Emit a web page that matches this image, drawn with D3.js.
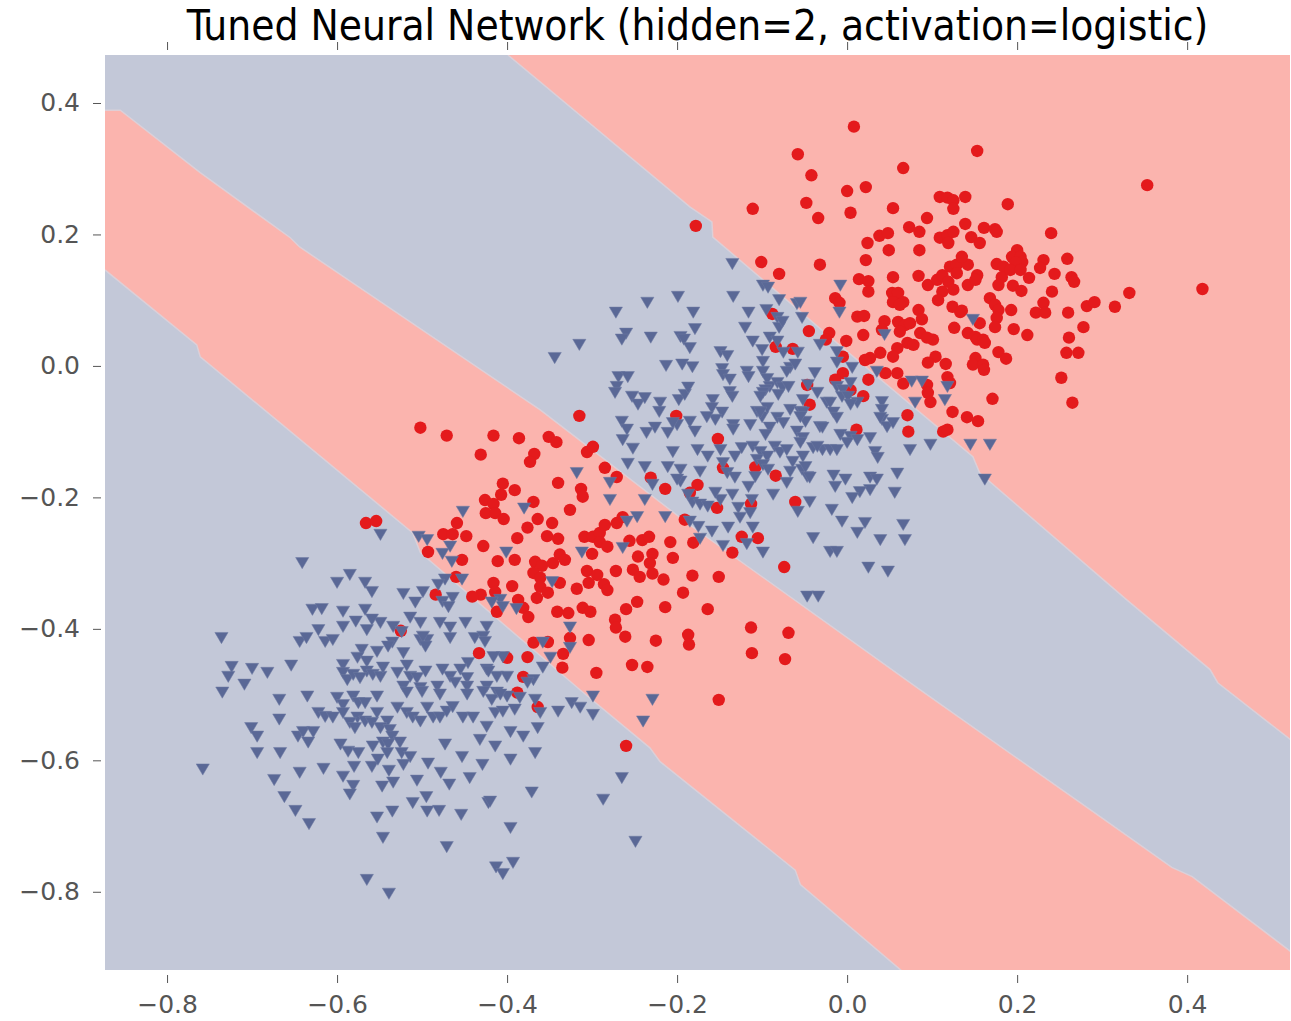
<!DOCTYPE html>
<html>
<head>
<meta charset="utf-8">
<script src="https://cdn.jsdelivr.net/npm/d3@7"></script>
<style>
  html, body { margin: 0; padding: 0; background: #ffffff; }
  svg { display: block; }
  .tick text { font-family: "DejaVu Sans", sans-serif; }
</style>
</head>
<body>
<svg id="chart" width="1291" height="1021"></svg>
<script>
// ---- data -------------------------------------------------------------
const chartTitle = "Tuned Neural Network (hidden=2, activation=logistic)";
const xTickValues = [-0.8, -0.6, -0.4, -0.2, 0.0, 0.2, 0.4];
const yTickValues = [-0.8, -0.6, -0.4, -0.2, 0.0, 0.2, 0.4];
const xExtent = [-0.873, 0.521];
const yExtent = [-0.919, 0.473];

// decision boundaries of the fitted network (as traced on the prediction grid)
const boundaryUpper = [[-0.399,0.473],[-0.185,0.242],[-0.159,0.219],[-0.158,0.196],[-0.012,0.035],[0.148,-0.138],[0.156,-0.163],[0.329,-0.356],[0.427,-0.462],[0.436,-0.482],[0.522,-0.569]];
const boundaryMiddle = [[-0.873,0.389],[-0.855,0.389],[-0.761,0.294],[-0.655,0.195],[-0.644,0.181],[-0.361,-0.067],[-0.185,-0.242],[0.086,-0.493],[0.298,-0.686],[0.382,-0.763],[0.406,-0.777],[0.522,-0.891]];
const boundaryLower = [[-0.873,0.146],[-0.765,0.032],[-0.761,0.014],[-0.511,-0.254],[-0.502,-0.284],[-0.314,-0.493],[-0.232,-0.581],[-0.220,-0.602],[-0.061,-0.767],[-0.055,-0.789],[0.104,-0.964]];

// class 1 samples (red circles)
const classRed = [
[0.008,0.364],[-0.058,0.322],[-0.042,0.290],[0.066,0.301],[0.000,0.266],[0.022,0.272],[-0.111,0.239],[-0.048,0.248],[-0.034,0.225],[0.004,0.233],[0.054,0.240],[0.153,0.327],[-0.178,0.213],[0.109,0.257],[0.118,0.256],[0.125,0.252],[0.139,0.257],[0.125,0.239],[0.094,0.225],[0.073,0.211],[0.085,0.204],[0.038,0.198],[0.048,0.202],[0.024,0.187],[0.049,0.176],[0.085,0.176],[0.139,0.216],[0.109,0.195],[0.118,0.199],[0.125,0.204],[0.119,0.187],[0.146,0.196],[0.022,0.161],[-0.032,0.154],[-0.101,0.158],[-0.080,0.140],[0.014,0.132],[0.025,0.129],[0.025,0.113],[0.054,0.135],[0.084,0.137],[0.095,0.123],[0.106,0.131],[0.112,0.138],[0.121,0.151],[0.129,0.154],[0.142,0.154],[0.129,0.141],[0.119,0.128],[0.125,0.116],[0.112,0.113],[0.107,0.100],[0.142,0.123],[0.053,0.111],[0.060,0.111],[0.066,0.097],[0.054,0.097],[0.062,0.093],[-0.014,0.103],[-0.009,0.096],[0.084,0.085],[0.088,0.071],[0.124,0.090],[0.133,0.082],[0.012,0.075],[0.020,0.076],[0.044,0.068],[0.060,0.067],[0.068,0.062],[0.074,0.065],[0.062,0.052],[0.019,0.047],[-0.001,0.038],[-0.045,0.053],[-0.021,0.050],[-0.025,0.040],[-0.088,0.079],[-0.084,0.029],[-0.064,0.026],[0.126,0.058],[0.086,0.050],[0.101,0.040],[0.094,0.043],[0.142,0.050],[0.151,0.044],[0.153,0.040],[0.071,0.035],[0.078,0.032],[0.059,0.027],[0.039,0.020],[0.027,0.012],[0.104,0.014],
[0.353,0.275],[0.189,0.246],[0.161,0.210],[0.174,0.208],[0.176,0.204],[0.156,0.187],[0.240,0.202],[0.135,0.166],[0.200,0.176],[0.194,0.166],[0.204,0.166],[0.206,0.158],[0.198,0.157],[0.176,0.155],[0.184,0.151],[0.182,0.135],[0.192,0.146],[0.204,0.146],[0.231,0.161],[0.227,0.149],[0.259,0.163],[0.244,0.140],[0.214,0.134],[0.264,0.135],[0.267,0.128],[0.153,0.138],[0.151,0.131],[0.178,0.123],[0.195,0.122],[0.205,0.114],[0.241,0.113],[0.418,0.117],[0.332,0.111],[0.168,0.103],[0.174,0.093],[0.178,0.085],[0.193,0.085],[0.231,0.096],[0.222,0.081],[0.233,0.081],[0.260,0.081],[0.282,0.091],[0.291,0.097],[0.315,0.090],[0.135,0.084],[0.176,0.073],[0.156,0.065],[0.174,0.059],[0.196,0.056],[0.212,0.047],[0.278,0.059],[0.261,0.043],[0.160,0.040],[0.162,0.035],[0.258,0.020],[0.272,0.020],[0.178,0.021],[0.187,0.011],[0.151,0.012],[0.148,0.002],[0.160,0.002],[0.161,-0.006],[0.252,-0.018],[0.171,-0.050],[0.265,-0.056],[0.141,-0.078],[0.154,-0.084],
[0.041,0.055],[0.021,0.009],[0.054,0.014],[0.095,0.005],[0.116,0.003],[0.045,-0.011],[0.059,-0.011],[0.118,-0.017],[0.121,-0.026],[0.094,-0.029],[0.095,-0.041],[0.098,-0.055],[0.066,-0.027],[0.124,-0.070],[0.113,-0.100],[0.118,-0.097],[0.071,-0.075],[0.072,-0.100],[0.025,-0.021],[0.019,-0.046],[-0.005,-0.011],[-0.014,-0.021],[0.011,-0.097],[0.004,-0.037],[-0.044,-0.059],[-0.047,-0.029],[-0.005,0.014],
[-0.152,-0.111],[-0.146,-0.155],[-0.108,-0.154],[-0.084,-0.167],[-0.176,-0.181],[-0.185,-0.193],[-0.153,-0.216],[-0.113,-0.210],[-0.061,-0.207],[-0.191,-0.234],[-0.181,-0.269],[-0.124,-0.260],[-0.105,-0.262],[-0.135,-0.284],[-0.074,-0.306],[-0.182,-0.319],[-0.151,-0.321],[-0.193,-0.345],[-0.164,-0.370],[-0.113,-0.398],[-0.187,-0.409],[-0.186,-0.424],[-0.069,-0.406],[-0.112,-0.437],[-0.073,-0.446],[-0.151,-0.508],
[-0.502,-0.094],[-0.471,-0.106],[-0.416,-0.106],[-0.386,-0.110],[-0.351,-0.108],[-0.342,-0.116],[-0.431,-0.135],[-0.368,-0.134],[-0.373,-0.146],[-0.315,-0.076],[-0.306,-0.131],[-0.299,-0.123],[-0.285,-0.155],[-0.271,-0.169],[-0.231,-0.170],[-0.214,-0.187],[-0.201,-0.076],[-0.340,-0.178],[-0.313,-0.187],[-0.311,-0.199],[-0.326,-0.219],[-0.405,-0.179],[-0.407,-0.196],[-0.391,-0.189],[-0.369,-0.207],[-0.426,-0.204],[-0.416,-0.210],[-0.425,-0.224],[-0.414,-0.224],[-0.404,-0.233],[-0.364,-0.233],[-0.347,-0.239],[-0.353,-0.259],[-0.340,-0.263],[-0.376,-0.246],[-0.388,-0.262],[-0.459,-0.239],[-0.475,-0.256],[-0.464,-0.256],[-0.448,-0.259],[-0.428,-0.274],[-0.493,-0.283],[-0.453,-0.295],[-0.411,-0.297],[-0.391,-0.295],[-0.367,-0.298],[-0.359,-0.304],[-0.369,-0.315],[-0.361,-0.322],[-0.361,-0.336],[-0.352,-0.345],[-0.365,-0.353],[-0.346,-0.300],[-0.338,-0.287],[-0.332,-0.295],[-0.309,-0.260],[-0.299,-0.260],[-0.291,-0.254],[-0.285,-0.242],[-0.291,-0.268],[-0.282,-0.275],[-0.271,-0.239],[-0.264,-0.230],[-0.256,-0.266],[-0.241,-0.265],[-0.233,-0.260],[-0.246,-0.290],[-0.229,-0.286],[-0.232,-0.300],[-0.205,-0.292],[-0.272,-0.312],[-0.252,-0.310],[-0.244,-0.321],[-0.229,-0.316],[-0.216,-0.325],[-0.208,-0.268],[-0.300,-0.286],[-0.306,-0.312],[-0.294,-0.318],[-0.304,-0.330],[-0.286,-0.332],[-0.282,-0.341],[-0.318,-0.339],[-0.338,-0.330],[-0.394,-0.335],[-0.416,-0.330],[-0.414,-0.344],[-0.431,-0.348],[-0.441,-0.351],[-0.387,-0.356],[-0.381,-0.368],[-0.375,-0.382],[-0.412,-0.374],[-0.341,-0.374],[-0.328,-0.376],[-0.311,-0.368],[-0.302,-0.374],[-0.260,-0.370],[-0.247,-0.359],[-0.214,-0.367],[-0.273,-0.386],[-0.272,-0.398],[-0.261,-0.412],[-0.326,-0.414],[-0.352,-0.420],[-0.304,-0.417],[-0.225,-0.418],[-0.334,-0.438],[-0.335,-0.459],[-0.295,-0.467],[-0.253,-0.455],[-0.235,-0.458],[-0.369,-0.421],[-0.376,-0.443],[-0.400,-0.444],[-0.433,-0.437],[-0.381,-0.473],[-0.388,-0.497],[-0.364,-0.519],[-0.525,-0.403],[-0.566,-0.239],[-0.554,-0.236],[-0.484,-0.348],[-0.460,-0.321],[-0.260,-0.578]
];

// class 0 samples (blue triangles)
const classBlue = [
[-0.135,0.155],[-0.099,0.122],[-0.093,0.119],[-0.199,0.105],[-0.235,0.096],[-0.272,0.081],[-0.134,0.105],[-0.181,0.081],[-0.080,0.100],[-0.059,0.094],[-0.116,0.081],[-0.095,0.085],[-0.082,0.073],[-0.080,0.058],[-0.076,0.067],[-0.053,0.073],[-0.179,0.056],[-0.120,0.058],[-0.315,0.032],[-0.344,0.012],[-0.260,0.049],[-0.265,0.040],[-0.231,0.043],[-0.196,0.044],[-0.192,0.040],[-0.185,0.027],[-0.111,0.037],[-0.091,0.043],[-0.082,0.037],[-0.075,0.020],[-0.058,0.020],[-0.032,0.032],[-0.100,0.024],[-0.149,0.021],[-0.141,0.015],[-0.099,0.006],[-0.213,0.000],[-0.194,0.002],[-0.182,-0.002],[-0.147,-0.005],[-0.146,-0.014],[-0.138,-0.021],[-0.118,-0.009],[-0.116,-0.017],[-0.099,-0.009],[-0.094,-0.020],[-0.091,-0.032],[-0.096,-0.037],[-0.082,-0.026],[-0.076,-0.033],[-0.069,-0.032],[-0.067,-0.003],[-0.061,0.002],[-0.071,-0.009],[-0.038,-0.011],[-0.035,-0.041],[-0.052,-0.052],[-0.024,-0.056],[-0.269,-0.017],[-0.258,-0.017],[-0.271,-0.032],[-0.273,-0.041],[-0.253,-0.047],[-0.246,-0.059],[-0.238,-0.049],[-0.220,-0.056],[-0.221,-0.070],[-0.198,-0.052],[-0.191,-0.044],[-0.187,-0.033],[-0.158,-0.052],[-0.159,-0.064],[-0.147,-0.071],[-0.155,-0.082],[-0.138,-0.040],[-0.135,-0.047],[-0.099,-0.041],[-0.102,-0.047],[-0.081,-0.044],[-0.106,-0.070],[-0.100,-0.078],[-0.094,-0.064],[-0.082,-0.079],[-0.075,-0.087],[-0.067,-0.067],[-0.055,-0.070],[-0.049,-0.085],[-0.032,-0.093],[-0.265,-0.085],[-0.226,-0.094],[-0.200,-0.090],[-0.185,-0.085],[-0.165,-0.078],[-0.134,-0.090],[-0.114,-0.090],
[-0.008,0.122],[-0.009,0.081],[-0.055,0.096],[0.044,0.047],[-0.012,0.021],[-0.012,0.005],[0.006,-0.003],[0.035,-0.009],[0.148,0.070],[0.076,-0.024],[0.088,-0.024],[0.118,-0.032],[0.115,-0.052],[0.080,-0.056],[-0.046,-0.029],[-0.012,-0.032],[-0.005,-0.037],[-0.006,-0.047],[0.001,-0.047],[0.004,-0.026],[0.012,-0.056],[-0.020,-0.056],[-0.016,-0.071],[-0.012,-0.079],[0.041,-0.055],[0.041,-0.067],[0.041,-0.082],[0.047,-0.093],[0.054,-0.087],[-0.029,-0.094],[-0.052,-0.071],[-0.008,-0.105],[0.004,-0.108],[0.000,-0.117],[0.012,-0.113],[0.027,-0.110],[0.033,-0.131],[0.036,-0.140],[0.074,-0.128],[0.098,-0.120],[0.145,-0.120],[0.168,-0.120],[0.162,-0.173],[-0.040,-0.125],[-0.029,-0.128],[-0.020,-0.128],[-0.012,-0.128],[-0.052,-0.138],[-0.053,-0.158],[-0.047,-0.169],[-0.016,-0.167],[-0.014,-0.184],[-0.002,-0.173],[0.027,-0.170],[0.035,-0.173],[0.027,-0.189],[0.059,-0.164],[0.015,-0.192],[0.006,-0.201],[0.056,-0.193],[-0.044,-0.207],[-0.018,-0.219],[-0.006,-0.237],[0.021,-0.239],[0.012,-0.254],[0.039,-0.265],[0.066,-0.242],[0.068,-0.265],[-0.040,-0.262],[-0.020,-0.283],[-0.012,-0.283],[0.025,-0.307],[0.048,-0.313],[-0.047,-0.351],[-0.034,-0.351],
[-0.179,-0.100],[-0.134,-0.097],[-0.102,-0.071],[-0.091,-0.094],[-0.096,-0.105],[-0.055,-0.078],[0.004,-0.059],[-0.059,-0.100],[-0.052,-0.110],[-0.055,-0.117],[-0.035,-0.123],[0.039,-0.079],[-0.176,-0.128],[-0.164,-0.138],[-0.149,-0.128],[-0.132,-0.138],[-0.124,-0.125],[-0.111,-0.123],[-0.102,-0.131],[-0.094,-0.138],[-0.085,-0.123],[-0.079,-0.132],[-0.071,-0.128],[-0.064,-0.146],[-0.049,-0.154],[-0.044,-0.170],[-0.067,-0.161],[-0.106,-0.143],[-0.099,-0.151],[-0.093,-0.158],[-0.108,-0.169],[-0.173,-0.161],[-0.146,-0.148],[-0.141,-0.163],[-0.132,-0.170],[-0.116,-0.184],[-0.087,-0.196],[-0.071,-0.178],[-0.058,-0.222],[-0.196,-0.158],[-0.196,-0.176],[-0.182,-0.208],[-0.173,-0.211],[-0.164,-0.214],[-0.128,-0.216],[-0.112,-0.204],[-0.114,-0.224],[-0.126,-0.231],[-0.159,-0.252],[-0.140,-0.246],[-0.111,-0.246],[-0.185,-0.237],[-0.175,-0.245],[-0.173,-0.263],[-0.146,-0.274],[-0.118,-0.271],[-0.099,-0.284],[-0.149,-0.204],[-0.135,-0.196],[-0.155,-0.193],
[-0.259,-0.097],[-0.264,-0.113],[-0.252,-0.126],[-0.236,-0.102],[-0.205,-0.087],[-0.211,-0.102],[-0.205,-0.131],[-0.258,-0.149],[-0.238,-0.154],[-0.211,-0.154],[-0.200,-0.173],[-0.187,-0.196],[-0.318,-0.163],[-0.279,-0.178],[-0.279,-0.204],[-0.238,-0.204],[-0.229,-0.181],[-0.247,-0.230],[-0.259,-0.237],[-0.214,-0.230],[-0.380,-0.217],[-0.312,-0.284],[-0.264,-0.277],[-0.452,-0.222],[-0.504,-0.260],[-0.494,-0.265],[-0.549,-0.257],[-0.476,-0.286],[-0.467,-0.275],[-0.465,-0.298],[-0.453,-0.325],[-0.473,-0.325],[-0.481,-0.333],[-0.464,-0.353],[-0.476,-0.359],[-0.469,-0.367],[-0.499,-0.344],[-0.522,-0.347],[-0.508,-0.360],[-0.567,-0.330],[-0.559,-0.344],[-0.567,-0.371],[-0.401,-0.284],[-0.347,-0.329],[-0.408,-0.356],[-0.405,-0.367],[-0.389,-0.370],[-0.326,-0.398],[-0.326,-0.429],[-0.358,-0.421],[-0.349,-0.444],[-0.358,-0.459],[-0.369,-0.478],[-0.376,-0.482],[-0.299,-0.503],[-0.229,-0.508],[-0.405,-0.443],[-0.416,-0.443],[-0.424,-0.462],[-0.412,-0.473],[-0.400,-0.473],[-0.424,-0.488],[-0.412,-0.497],[-0.400,-0.503],[-0.385,-0.505],[-0.446,-0.452],[-0.455,-0.462],[-0.447,-0.475],[-0.467,-0.473],[-0.476,-0.462],[-0.461,-0.482],[-0.514,-0.383],[-0.502,-0.417],[-0.494,-0.417],[-0.479,-0.391],[-0.467,-0.398],[-0.449,-0.391],[-0.438,-0.414],[-0.424,-0.397],[-0.549,-0.391],[-0.534,-0.397],[-0.524,-0.405],[-0.535,-0.421],[-0.522,-0.437],
[-0.641,-0.300],[-0.585,-0.318],[-0.600,-0.330],[-0.418,-0.360],[-0.736,-0.414],[-0.629,-0.371],[-0.618,-0.370],[-0.593,-0.374],[-0.622,-0.402],[-0.644,-0.420],[-0.636,-0.414],[-0.614,-0.420],[-0.605,-0.417],[-0.593,-0.397],[-0.578,-0.389],[-0.565,-0.402],[-0.559,-0.386],[-0.540,-0.427],[-0.502,-0.391],[-0.499,-0.412],[-0.496,-0.427],[-0.467,-0.414],[-0.428,-0.412],[-0.426,-0.420],[-0.571,-0.432],[-0.576,-0.444],[-0.565,-0.450],[-0.553,-0.435],[-0.565,-0.465],[-0.724,-0.458],[-0.728,-0.473],[-0.700,-0.461],[-0.709,-0.485],[-0.735,-0.497],[-0.682,-0.467],[-0.654,-0.456],[-0.635,-0.503],[-0.668,-0.508],[-0.593,-0.455],[-0.593,-0.467],[-0.588,-0.478],[-0.581,-0.470],[-0.573,-0.475],[-0.600,-0.505],[-0.593,-0.516],[-0.581,-0.503],[-0.575,-0.513],[-0.567,-0.513],[-0.558,-0.470],[-0.549,-0.473],[-0.553,-0.503],[-0.546,-0.459],[-0.529,-0.467],[-0.518,-0.456],[-0.514,-0.473],[-0.506,-0.475],[-0.496,-0.465],[-0.502,-0.490],[-0.522,-0.488],[-0.518,-0.497],[-0.500,-0.496],[-0.482,-0.488],[-0.479,-0.500],[-0.447,-0.488],[-0.447,-0.500],[-0.428,-0.496],[-0.422,-0.465],[-0.418,-0.508],[-0.593,-0.528],[-0.576,-0.535],[-0.567,-0.541],[-0.559,-0.543],[-0.585,-0.543],[-0.579,-0.551],[-0.622,-0.528],[-0.614,-0.534],[-0.605,-0.535],[-0.668,-0.538],[-0.701,-0.551],[-0.694,-0.564],[-0.646,-0.564],[-0.640,-0.557],[-0.628,-0.557],[-0.634,-0.573],[-0.553,-0.528],[-0.541,-0.541],[-0.549,-0.551],[-0.538,-0.554],[-0.546,-0.573],[-0.535,-0.564],[-0.529,-0.520],[-0.518,-0.528],[-0.511,-0.535],[-0.502,-0.541],[-0.494,-0.520],[-0.487,-0.535],[-0.479,-0.535],[-0.471,-0.526],[-0.464,-0.519],[-0.452,-0.535],[-0.440,-0.535],[-0.424,-0.549],[-0.414,-0.528],[-0.596,-0.576],[-0.587,-0.587],[-0.558,-0.579],[-0.540,-0.576],[-0.526,-0.573],[-0.524,-0.589],[-0.514,-0.595],[-0.473,-0.576],[-0.453,-0.595],[-0.432,-0.569],[-0.414,-0.579],
[-0.758,-0.614],[-0.694,-0.589],[-0.667,-0.589],[-0.674,-0.630],[-0.644,-0.619],[-0.616,-0.613],[-0.662,-0.656],[-0.649,-0.677],[-0.633,-0.697],[-0.575,-0.589],[-0.580,-0.610],[-0.593,-0.625],[-0.581,-0.639],[-0.585,-0.652],[-0.559,-0.610],[-0.552,-0.599],[-0.541,-0.589],[-0.539,-0.616],[-0.534,-0.634],[-0.547,-0.640],[-0.522,-0.607],[-0.493,-0.605],[-0.506,-0.631],[-0.553,-0.687],[-0.535,-0.678],[-0.546,-0.718],[-0.511,-0.665],[-0.495,-0.656],[-0.494,-0.678],[-0.480,-0.677],[-0.478,-0.619],[-0.468,-0.637],[-0.454,-0.683],[-0.444,-0.627],[-0.429,-0.607],[-0.422,-0.665],[-0.471,-0.732],[-0.396,-0.599],[-0.396,-0.703],[-0.371,-0.649],[-0.367,-0.589],[-0.393,-0.756],[-0.413,-0.763],[-0.405,-0.773],[-0.565,-0.782],[-0.539,-0.803],
[-0.408,-0.500],[-0.405,-0.526],[-0.391,-0.523],[-0.367,-0.508],[-0.361,-0.528],[-0.364,-0.551],[-0.340,-0.526],[-0.324,-0.513],[-0.314,-0.520],[-0.299,-0.531],[-0.396,-0.557],[-0.381,-0.564],[-0.420,-0.663],[-0.287,-0.660],[-0.265,-0.627],[-0.249,-0.724],[-0.240,-0.541]
];

// ---- layout & style ------------------------------------------------------
const W = 1291, H = 1021;
const margin = { top: 55, right: 1, bottom: 51, left: 105 };
const colors = {
  regionBlue: "#c3c8d8",
  regionPink: "#fbb4ae",
  seam: "#dcd3dc",
  red: "#e41a1c",
  blue: "#5a6896",
  tick: "#555555"
};

const svg = d3.select("#chart");
const x = d3.scaleLinear().domain(xExtent).range([margin.left, W - margin.right]);
const y = d3.scaleLinear().domain(yExtent).range([H - margin.bottom, margin.top]);

svg.append("defs").append("clipPath").attr("id", "plot-clip")
  .append("rect")
  .attr("x", x(xExtent[0])).attr("y", y(yExtent[1]))
  .attr("width", x(xExtent[1]) - x(xExtent[0]))
  .attr("height", y(yExtent[0]) - y(yExtent[1]));

const plot = svg.append("g").attr("clip-path", "url(#plot-clip)");

// background: the "blue" class everywhere, pink where the network predicts class 1
plot.append("rect")
  .attr("x", x(xExtent[0])).attr("y", y(yExtent[1]))
  .attr("width", x(xExtent[1]) - x(xExtent[0]))
  .attr("height", y(yExtent[0]) - y(yExtent[1]))
  .attr("fill", colors.regionBlue);

const line = d3.line().x(d => x(d[0])).y(d => y(d[1]));
const far = 1.5; // reach past the axes so the clip path trims the regions

const upperFirst = boundaryUpper[0], upperLast = boundaryUpper[boundaryUpper.length - 1];
const upperRegion = [
  ...boundaryUpper,
  [far, upperLast[1]], [far, far], [upperFirst[0], far]
];

const midFirst = boundaryMiddle[0], midLast = boundaryMiddle[boundaryMiddle.length - 1];
const lowFirst = boundaryLower[0], lowLast = boundaryLower[boundaryLower.length - 1];
const bandRegion = [
  [-far, midFirst[1]],
  ...boundaryMiddle,
  [far, midLast[1]], [far, -far], [lowLast[0], -far],
  ...boundaryLower.slice().reverse(),
  [-far, lowFirst[1]]
];

plot.append("path").attr("d", line(upperRegion) + "Z").attr("fill", colors.regionPink);
plot.append("path").attr("d", line(bandRegion) + "Z").attr("fill", colors.regionPink);

// thin lighter seams where the filled contour levels meet
[boundaryUpper, boundaryMiddle, boundaryLower].forEach(b => {
  plot.append("path").attr("d", line(b))
    .attr("fill", "none").attr("stroke", colors.seam)
    .attr("stroke-width", 1.5).attr("opacity", 0.8);
});

// samples
plot.append("g").selectAll("circle").data(classRed).join("circle")
  .attr("cx", d => x(d[0])).attr("cy", d => y(d[1]))
  .attr("r", 6.2).attr("fill", colors.red);

const triW = 6.6, triH = 5.6;
plot.append("g").selectAll("path").data(classBlue).join("path")
  .attr("d", d => {
    const cx = x(d[0]), cy = y(d[1]);
    return `M${cx - triW},${cy - triH}L${cx + triW},${cy - triH}L${cx},${cy + triH}Z`;
  })
  .attr("fill", colors.blue)
  .attr("stroke", "#6f7ba3").attr("stroke-width", 0.5);

// ---- axes ------------------------------------------------------------------
const fmt = v => (v < 0 ? "\u2212" : "") + Math.abs(v).toFixed(1);

const xAxis = svg.append("g")
  .attr("transform", `translate(0,${y(yExtent[0]) + 5})`)
  .call(d3.axisBottom(x).tickValues(xTickValues).tickFormat(fmt).tickSize(8).tickPadding(12).tickSizeOuter(0));
const xAxisTop = svg.append("g")
  .attr("transform", `translate(0,${y(yExtent[1]) - 5})`)
  .call(d3.axisTop(x).tickValues(xTickValues).tickFormat("").tickSize(8).tickSizeOuter(0));
const yAxis = svg.append("g")
  .attr("transform", `translate(${x(xExtent[0]) - 4},0)`)
  .call(d3.axisLeft(y).tickValues(yTickValues).tickFormat(fmt).tickSize(8).tickPadding(13).tickSizeOuter(0));

[xAxis, xAxisTop, yAxis].forEach(g => {
  g.select(".domain").remove();
  g.selectAll(".tick line").attr("stroke", colors.tick).attr("stroke-width", 1);
  g.selectAll(".tick text")
    .attr("fill", colors.tick)
    .style("font-size", "25px")
    .style("font-family", "'DejaVu Sans', sans-serif");
});

// ---- title -------------------------------------------------------------------
svg.append("text")
  .attr("x", (x(xExtent[0]) + x(xExtent[1])) / 2)
  .attr("y", 40)
  .attr("text-anchor", "middle")
  .style("font-family", "'DejaVu Sans Condensed', 'DejaVu Sans', sans-serif")
  .style("font-stretch", "condensed")
  .style("font-size", "42px")
  .attr("fill", "#000")
  .text(chartTitle);
</script>
</body>
</html>
